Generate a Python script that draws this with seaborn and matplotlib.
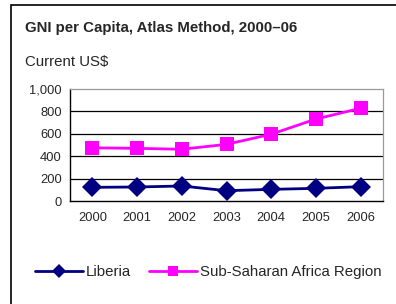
import matplotlib
matplotlib.use('Agg')
import matplotlib.pyplot as plt
import seaborn as sns
import pandas as pd
from matplotlib.patches import Rectangle
from matplotlib.ticker import FixedLocator
from matplotlib.lines import Line2D

# GNI per capita, current US$
years = ['2000', '2001', '2002', '2003', '2004', '2005', '2006']
liberia = [122, 125, 134, 92, 104, 113, 128]
ssa = [475, 470, 462, 506, 596, 732, 828]

df = pd.DataFrame({'year': years, 'Liberia': liberia, 'Sub-Saharan Africa Region': ssa})
df['x'] = range(len(years))
df_long = df.melt(id_vars=['year', 'x'], var_name='series', value_name='value')

sns.set_style('white')
plt.rcParams['font.family'] = ['Liberation Sans', 'DejaVu Sans']

fig = plt.figure(figsize=(3.96, 3.04), dpi=100)
ax = fig.add_axes([70 / 396, 1 - 201 / 304, 313 / 396, 112 / 304])

sns.lineplot(data=df_long, x='x', y='value', hue='series', style='series',
             palette={'Liberia': '#000080', 'Sub-Saharan Africa Region': '#FF00FF'},
             markers={'Liberia': 'D', 'Sub-Saharan Africa Region': 's'},
             dashes=False, markersize=10, linewidth=2, markeredgewidth=0,
             ax=ax, legend=False)

ax.set_xlim(-0.5, 6.5)
ax.set_ylim(0, 1000)
ax.set_yticks([0, 200, 400, 600, 800, 1000])
ax.set_yticklabels(['0', '200', '400', '600', '800', '1,000'], fontsize=9.3)
ax.set_xticks(range(len(years)))
ax.set_xticklabels(years, fontsize=9.3)
ax.tick_params(axis='x', which='major', length=0, pad=8)
ax.xaxis.set_minor_locator(FixedLocator([i - 0.5 for i in range(len(years) + 1)]))
ax.tick_params(axis='x', which='minor', length=4, width=1, color='black', direction='out')
ax.tick_params(axis='y', length=4, width=1, color='black', direction='out', pad=2)
ax.set_xlabel('')
ax.set_ylabel('')
for y in [200, 400, 600, 800]:
    ax.axhline(y, color='black', linewidth=0.9, zorder=0)
for side in ['top', 'right']:
    ax.spines[side].set_color('#999999')
    ax.spines[side].set_linewidth(0.9)
for side in ['left', 'bottom']:
    ax.spines[side].set_color('black')
    ax.spines[side].set_linewidth(1)

# legend
handles = [
    Line2D([], [], color='#000080', marker='D', markersize=7, linewidth=2, markeredgewidth=0),
    Line2D([], [], color='#FF00FF', marker='s', markersize=7, linewidth=2, markeredgewidth=0),
]
fig.legend(handles, ['Liberia', 'Sub-Saharan Africa Region'], loc='center',
           bbox_to_anchor=(208 / 396, 1 - 272 / 304), ncol=2, frameon=False,
           fontsize=10.8, handlelength=3.2, handletextpad=0.2, columnspacing=1.2)

# titles
fig.text(25 / 396, 1 - 28 / 304, 'GNI per Capita, Atlas Method, 2000\u201306',
         fontsize=10.8, fontweight='bold', va='center', ha='left')
fig.text(25 / 396, 1 - 62 / 304, 'Current US$', fontsize=10.8, va='center', ha='left')

# outer frame
fig.patches.append(Rectangle((11 / 396, -0.1), 1.0, 1 - 5 / 304 + 0.1,
                             transform=fig.transFigure, fill=False,
                             edgecolor='black', linewidth=1.2))

fig.savefig('out.png', dpi=100)
